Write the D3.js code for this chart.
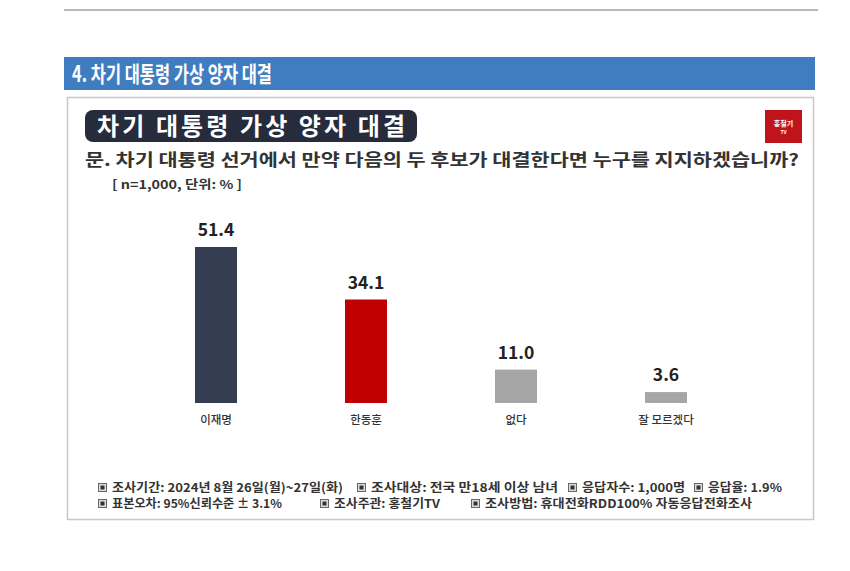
<!DOCTYPE html>
<html>
<head>
<meta charset="utf-8">
<script src="https://cdn.jsdelivr.net/npm/d3@7"></script>
<style>
  body { margin: 0; background: #fff; }
  text { font-family: "Noto Sans CJK KR", "Noto Sans", sans-serif; }
</style>
</head>
<body>
<svg id="chart"></svg>
<script>
// data
var categories = ['이재명', '한동훈', '없다', '잘 모르겠다']
var values = [51.4, 34.1, 11.0, 3.6]
var barColors = ['#343d51', '#c00000', '#a6a6a6', '#a6a6a6']
var footLine1 = ['조사기간: 2024년 8월 26일(월)~27일(화)', '조사대상: 전국 만18세 이상 남녀', '응답자수: 1,000명', '응답율: 1.9%']
var footLine2 = ['표본오차: 95%신뢰수준 ± 3.1%', '조사주관: 홍철기TV', '조사방법: 휴대전화RDD100% 자동응답전화조사']

var width = 850,
    height = 571

var svg = d3.select('#chart')
    .attr('width', width)
    .attr('height', height)

// top rule
svg.append('line')
    .attr('x1', 64).attr('x2', 818)
    .attr('y1', 10).attr('y2', 10)
    .attr('stroke', '#a0a0a0').attr('stroke-width', 1.5)

// blue section header
svg.append('rect')
    .attr('x', 64).attr('y', 57)
    .attr('width', 751).attr('height', 33)
    .attr('fill', '#3f7dc0')
svg.append('text')
    .attr('x', 72).attr('y', 82)
    .attr('fill', '#fff')
    .style('font-size', '22px')
    .style('font-weight', 700)
    .attr('textLength', 200)
    .attr('lengthAdjust', 'spacingAndGlyphs')
    .text('4. 차기 대통령 가상 양자 대결')

// content box
svg.append('rect')
    .attr('x', 67.5).attr('y', 97.5)
    .attr('width', 746).attr('height', 422)
    .attr('fill', '#fff')
    .attr('stroke', '#c8c8c8').attr('stroke-width', 1.5)

// title pill
svg.append('rect')
    .attr('x', 85).attr('y', 110)
    .attr('width', 332).attr('height', 32)
    .attr('rx', 8)
    .attr('fill', '#262c3c')
svg.append('text')
    .attr('x', 97).attr('y', 135)
    .attr('fill', '#fff')
    .style('font-size', '24px')
    .style('font-weight', 700)
    .attr('textLength', 308)
    .attr('lengthAdjust', 'spacing')
    .text('차기 대통령 가상 양자 대결')

// logo
var logo = svg.append('g').attr('transform', 'translate(765,110)')
logo.append('rect')
    .attr('width', 37).attr('height', 33)
    .attr('fill', '#c0141c')
logo.append('text')
    .attr('x', 18.5).attr('y', 16)
    .attr('text-anchor', 'middle')
    .attr('fill', '#fff')
    .style('font-size', '7px').style('font-weight', 700)
    .text('홍철기')
logo.append('text')
    .attr('x', 18.5).attr('y', 24)
    .attr('text-anchor', 'middle')
    .attr('fill', '#fff')
    .style('font-size', '5px').style('font-weight', 700)
    .text('TV')

// question
svg.append('text')
    .attr('x', 85).attr('y', 166)
    .attr('fill', '#333')
    .style('font-size', '17px')
    .style('font-weight', 700)
    .attr('textLength', 714)
    .attr('lengthAdjust', 'spacingAndGlyphs')
    .text('문. 차기 대통령 선거에서 만약 다음의 두 후보가 대결한다면 누구를 지지하겠습니까?')

svg.append('text')
    .attr('x', 112).attr('y', 189)
    .attr('fill', '#333')
    .style('font-size', '12px')
    .style('font-weight', 700)
    .attr('textLength', 130)
    .attr('lengthAdjust', 'spacingAndGlyphs')
    .text('[ n=1,000, 단위: % ]')

// bars
var x = d3.scaleBand()
    .domain(categories)
    .range([141, 741])
    .paddingInner(0.72)
    .paddingOuter(0.36)

var y = d3.scaleLinear()
    .domain([0, 51.4])
    .range([403, 247])

var data = categories.map((c, i) => ({ name: c, value: values[i], color: barColors[i] }))

var bars = svg.selectAll('.bar')
    .data(data)
    .enter().append('g')
    .attr('class', 'bar')

bars.append('rect')
    .attr('x', (d) => x(d.name))
    .attr('y', (d) => y(d.value))
    .attr('width', x.bandwidth())
    .attr('height', (d) => y(0) - y(d.value))
    .attr('fill', (d) => d.color)

bars.append('text')
    .attr('x', (d) => x(d.name) + x.bandwidth() / 2)
    .attr('y', (d) => y(d.value) - 11)
    .attr('text-anchor', 'middle')
    .attr('fill', '#222')
    .style('font-size', '17.5px')
    .style('font-weight', 700)
    .text((d) => d.value.toFixed(1))

bars.append('text')
    .attr('x', (d) => x(d.name) + x.bandwidth() / 2)
    .attr('y', 424)
    .attr('text-anchor', 'middle')
    .attr('fill', '#333')
    .style('font-size', '11.5px')
    .style('font-weight', 500)
    .text((d) => d.name)

// footer notes
var foot1X = [98, 357, 568, 694]
var foot1W = [231, 187, 103, 74]
var foot2X = [98, 320, 471]
var foot2W = [170, 106, 267]

function drawFoot(items, xs, ws, yPos) {
    items.forEach((t, i) => {
        var g = svg.append('g').attr('transform', 'translate(' + xs[i] + ',' + yPos + ')')
        g.append('rect')
            .attr('x', 0.5).attr('y', -8.5)
            .attr('width', 8).attr('height', 8)
            .attr('fill', '#ddd').attr('stroke', '#666')
        g.append('rect')
            .attr('x', 2.5).attr('y', -6.5)
            .attr('width', 4).attr('height', 4)
            .attr('fill', '#333')
        g.append('text')
            .attr('x', 14).attr('y', 0)
            .attr('fill', '#333')
            .style('font-size', '12px')
            .style('font-weight', 700)
            .attr('textLength', ws[i])
            .attr('lengthAdjust', 'spacingAndGlyphs')
            .text(t)
    })
}
drawFoot(footLine1, foot1X, foot1W, 492)
drawFoot(footLine2, foot2X, foot2W, 508)
</script>
</body>
</html>
